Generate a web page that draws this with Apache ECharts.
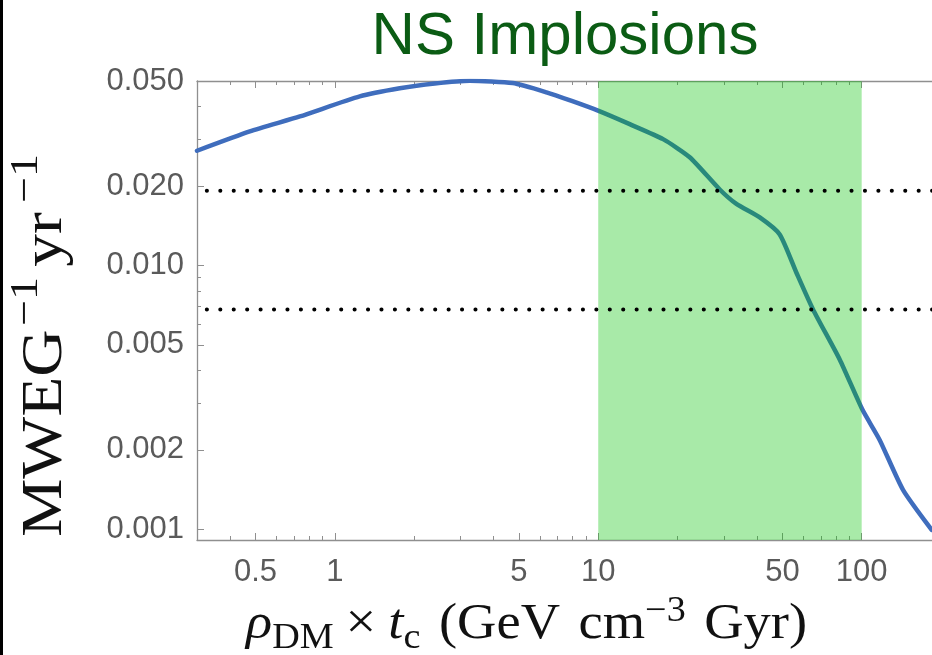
<!DOCTYPE html>
<html>
<head>
<meta charset="utf-8">
<script src="https://cdn.jsdelivr.net/npm/echarts@6/dist/echarts.min.js"></script>
<style>
  html, body { margin: 0; padding: 0; background: #fff; }
  #chart { width: 932px; height: 655px; }
</style>
</head>
<body>
<div id="chart"></div>
<script>
// ρ_DM × t_c (GeV cm^-3 Gyr) and the implosion rate (MWEG^-1 yr^-1)
const rhoTc = [0.3, 0.476, 0.737, 1.244, 1.765, 2.396, 3.253, 4.737, 6.36, 7.93, 9.98,
  13.17, 17.62, 22.25, 28.92, 33.45, 41.03, 48.85, 56.53, 65.35, 82.5, 100.6, 117.0, 143.5, 184.4];
const rate = [0.0272, 0.0322, 0.0367, 0.0437, 0.0469, 0.0489, 0.0501, 0.0491, 0.0453, 0.0420, 0.0386,
  0.0343, 0.0301, 0.0257, 0.0194, 0.0171, 0.0152, 0.0131, 0.00938, 0.00681, 0.00440, 0.00284, 0.00218, 0.00141, 0.000994];

// shaded range of ρ_DM × t_c
const bandRange = [10, 100];
// reference rate levels (dotted)
const rateLevels = [0.0192, 0.0068];

// axis ticks
const xMajorTicks = [0.5, 1, 5, 10, 50, 100];
const xMinorTicks = [0.3, 0.4, 0.6, 0.7, 0.8, 0.9, 2, 3, 4, 6, 7, 8, 9, 20, 30, 40, 60, 70, 80, 90, 200];
const yMajorTicks = [0.001, 0.002, 0.005, 0.01, 0.02, 0.05];
const yMinorTicks = [0.003, 0.004, 0.006, 0.007, 0.008, 0.009, 0.03, 0.04];

const xRange = [0.3, 200];
const yRange = [0.00091, 0.05];

const frameColor = '#8f8f8f';
const tickLabelColor = '#5a5a5a';

const measureCtx = document.createElement('canvas').getContext('2d');
function textWidth(str, font) {
  measureCtx.font = font;
  return measureCtx.measureText(str).width;
}

// lays out pieces of a formula along one baseline; rise lifts a piece, negative rise lowers it
function textRun(pieces, color) {
  let pos = 0;
  return pieces.map(p => {
    pos += p.gap || 0;
    const font = (p.italic ? 'italic ' : '') + p.size + 'px "Liberation Serif", "DejaVu Serif", serif';
    const el = {
      type: 'text',
      x: pos,
      y: -(p.rise || 0) - 0.305 * p.size,
      style: {
        text: p.text, font: font, fill: color,
        align: 'left', verticalAlign: 'middle',
        textAlign: 'left', textVerticalAlign: 'middle'
      }
    };
    pos += textWidth(p.text, font);
    return el;
  });
}

function xAxisDef(position, ticks, tickLen, withLabels, withLine) {
  return {
    type: 'log', logBase: 10, min: xRange[0], max: xRange[1], position: position,
    axisLine: { show: withLine, onZero: false, lineStyle: { color: frameColor, width: 1.3 } },
    axisTick: { show: true, inside: true, length: tickLen, customValues: ticks,
      lineStyle: { color: frameColor, width: 1 } },
    axisLabel: withLabels ? {
      show: true, customValues: ticks, margin: 17, hideOverlap: false,
      color: tickLabelColor, fontSize: 31, fontFamily: '"Liberation Sans", Arial, sans-serif',
      formatter: v => String(v)
    } : { show: false },
    minorTick: { show: false }, splitLine: { show: false }, minorSplitLine: { show: false }
  };
}

function yAxisDef(ticks, tickLen, withLabels, withLine) {
  return {
    type: 'log', logBase: 10, min: yRange[0], max: yRange[1], position: 'left',
    axisLine: { show: withLine, onZero: false, lineStyle: { color: frameColor, width: 1.3 } },
    axisTick: { show: true, inside: true, length: tickLen, customValues: ticks,
      lineStyle: { color: frameColor, width: 1 } },
    axisLabel: withLabels ? {
      show: true, customValues: ticks, margin: 13, hideOverlap: false,
      color: tickLabelColor, fontSize: 31, fontFamily: '"Liberation Sans", Arial, sans-serif',
      formatter: v => v.toFixed(3)
    } : { show: false },
    minorTick: { show: false }, splitLine: { show: false }, minorSplitLine: { show: false }
  };
}

const levelSeries = rateLevels.map((v, i) => ({
  name: 'level' + i,
  type: 'line',
  z: 5,
  silent: true,
  showSymbol: false,
  data: [[xRange[0], v], [xRange[1], v]],
  lineStyle: { color: '#000', width: 4, type: [0.1, 13.33], cap: 'round', dashOffset: 3.6 }
}));

const chart = echarts.init(document.getElementById('chart'), null, { renderer: 'canvas' });

chart.setOption({
  animation: false,
  backgroundColor: '#ffffff',
  grid: { left: 197, top: 81, right: -9, bottom: 115, outerBoundsMode: 'none', containLabel: false },
  xAxis: [
    xAxisDef('bottom', xMajorTicks, 7, true, true),
    xAxisDef('bottom', xMinorTicks, 4, false, false),
    xAxisDef('top', xMajorTicks, 7, false, true),
    xAxisDef('top', xMinorTicks, 4, false, false)
  ],
  yAxis: [
    yAxisDef(yMajorTicks, 7, true, true),
    yAxisDef(yMinorTicks, 4, false, false)
  ],
  series: [
    {
      name: 'rate',
      type: 'line',
      z: 2,
      data: rhoTc.map((x, i) => [x, rate[i]]),
      showSymbol: false,
      smooth: 0.2,
      lineStyle: { color: '#3f6dbd', width: 4.5, cap: 'round', join: 'round' },
      silent: true,
      markArea: {
        z: 3,
        silent: true,
        itemStyle: { color: 'rgba(0, 194, 0, 0.34)' },
        data: [[{ xAxis: bandRange[0] }, { xAxis: bandRange[1] }]]
      }
    }
  ].concat(levelSeries),
  graphic: [
    { type: 'rect', x: 0, y: 0, shape: { width: 3, height: 655 }, style: { fill: '#000' } },
    {
      type: 'text', x: 565, y: 37,
      style: {
        text: 'NS Implosions', font: '60px "Liberation Sans", Arial, sans-serif', fill: '#0b5c14',
        align: 'center', verticalAlign: 'middle', textAlign: 'center', textVerticalAlign: 'middle'
      }
    },
    {
      type: 'group', x: 246, y: 640, scaleX: 1.09,
      children: textRun([
        { text: 'ρ', size: 50, italic: true },
        { text: 'DM', size: 35, rise: -9 },
        { text: '×', size: 50, gap: 11 },
        { text: 't', size: 50, italic: true, gap: 11 },
        { text: 'c', size: 35, rise: -9 },
        { text: '(GeV', size: 50, gap: 17 },
        { text: 'cm', size: 50, gap: 17 },
        { text: '−3', size: 35, rise: 18 },
        { text: 'Gyr)', size: 50, gap: 17 }
      ], '#111')
    },
    {
      type: 'group', x: 63, y: 537, rotation: Math.PI / 2, scaleX: 1.15,
      children: textRun([
        { text: 'MWEG', size: 57 },
        { text: '−1', size: 40, rise: 24, gap: 3 },
        { text: 'yr', size: 57, gap: 9 },
        { text: '−1', size: 40, rise: 24, gap: 8 }
      ], '#111')
    }
  ]
});
</script>
</body>
</html>
